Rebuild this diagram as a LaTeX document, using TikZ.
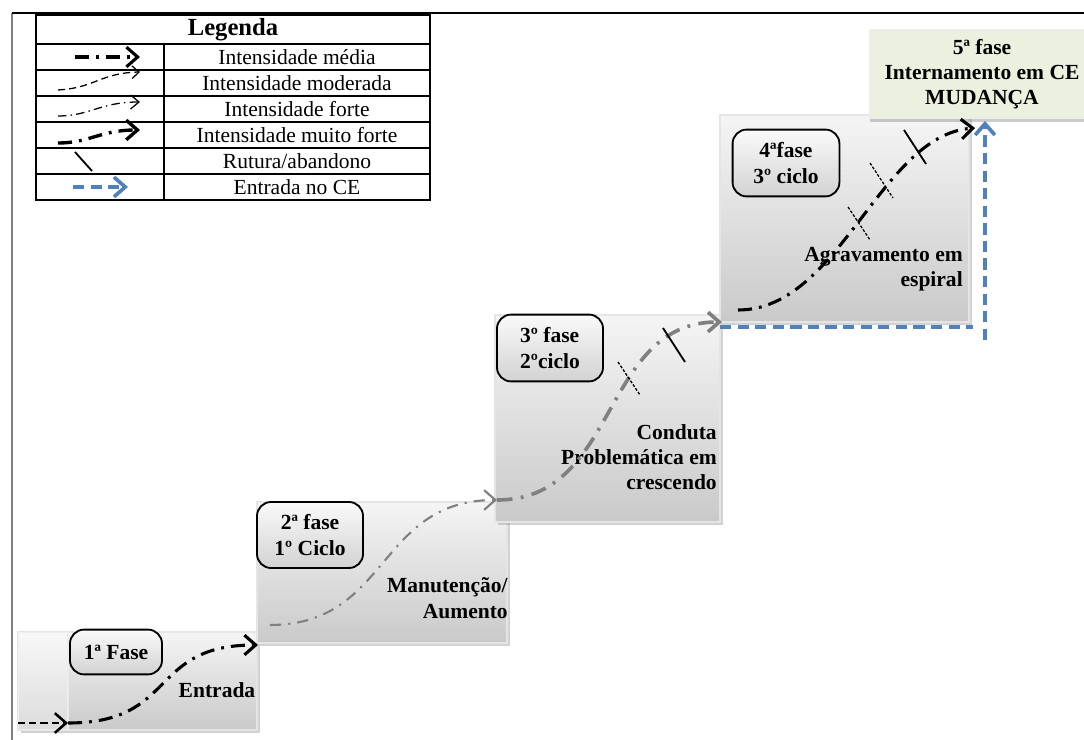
\documentclass[tikz,border=0pt]{standalone}
\usepackage{fontspec}
\setmainfont{Liberation Serif}
\usetikzlibrary{arrows.meta,shadows}
\definecolor{azulce}{HTML}{4F81BD}
\definecolor{verdece}{HTML}{EBF1DE}
\begin{document}
\begin{tikzpicture}[x=0.025cm,y=-0.025cm,font=\fontsize{15.3pt}{17pt}\selectfont]
    \tikzset{>={Straight Barb[length=8pt,width=14pt]}}
    \tikzset{degrau/.style={draw=gray!20,line width=1pt,top color=gray!8,bottom color=gray!42,drop shadow={shadow xshift=2pt,shadow yshift=-2pt,opacity=0.35}}}
    \tikzset{fase/.style={draw=black,line width=1.3pt,rounded corners=10pt,top color=gray!4,bottom color=gray!35,font=\fontsize{15.3pt}{18pt}\selectfont\bfseries,align=center,inner sep=0pt}}
    \tikzset{rotulo/.style={font=\fontsize{15.3pt}{18pt}\selectfont\bfseries,align=right,inner sep=0pt}}
    \tikzset{media/.style={line width=2.2pt,dash pattern=on 10pt off 5pt on 2pt off 5pt}}
    \tikzset{forte/.style={line width=1.5pt,gray,dash pattern=on 8pt off 5pt on 1.5pt off 5pt}}
    \tikzset{muitoforte/.style={line width=2.6pt,gray,dash pattern=on 11pt off 6pt on 2pt off 6pt}}
    \tikzset{rutura/.style={line width=1.3pt}}
    \tikzset{rutura2/.style={line width=0.9pt,dash pattern=on 2pt off 1.2pt}}
    \tikzset{entrada/.style={line width=2.6pt,azulce,dash pattern=on 8pt off 4.5pt}}
    \useasboundingbox (0,0) rectangle (1084,740);
    \fill[white] (0,0) rectangle (1084,740);
    \draw[gray,line width=1pt] (12,13) -- (12,740);
    \draw[line width=0.8pt] (12,13) -- (1084,13);
    % legenda
    \draw[line width=1.3pt] (36,15) rectangle (430,200);
    \foreach \y in {44,70,96,122,148,174}
        \draw[line width=1.3pt] (36,\y) -- (430,\y);
    \draw[line width=1.3pt] (164,44) -- (164,200);
    \node[font=\fontsize{17.5pt}{19pt}\selectfont\bfseries] (leg) at (233,30) {Legenda};
    \node (l1) at (297,57) {Intensidade média};
    \node (l2) at (297,83) {Intensidade moderada};
    \node (l3) at (297,109) {Intensidade forte};
    \node (l4) at (297,135) {Intensidade muito forte};
    \node (l5) at (297,161) {Rutura/abandono};
    \node (l6) at (297,187) {Entrada no CE};
    \draw[media,->] (75,57) -- (140,57);
    \draw[line width=0.9pt,dash pattern=on 5pt off 3pt,-{Straight Barb[length=5pt,width=9pt]}] (58,90) .. controls (95,88) and (100,73) .. (140,72);
    \draw[line width=0.9pt,dash pattern=on 6pt off 3pt on 1pt off 3pt,-{Straight Barb[length=6pt,width=10pt]}] (58,116) .. controls (90,116) and (100,102) .. (140,102);
    \draw[line width=2.4pt,dash pattern=on 10pt off 5pt on 2pt off 5pt,->] (58,143) .. controls (90,143) and (100,130) .. (140,130);
    \draw[rutura] (75,152) -- (92,171);
    \draw[entrada,->] (73,187) -- (128,187);
    % degraus
    \draw[degrau] (18,632) rectangle (257,730);
    \fill[white,opacity=0.35] (18,632) rectangle (68,730);
    \draw[gray!15,line width=1pt] (68,632) -- (68,730);
    \draw[degrau] (257,502) rectangle (507,643);
    \draw[degrau] (495,315) rectangle (720,522);
    \draw[degrau] (720,115) rectangle (969,322);
    \draw[draw=gray!15,line width=1pt,fill=verdece,drop shadow={shadow xshift=0pt,shadow yshift=-3pt,opacity=0.4}] (870,30) rectangle (1090,118);
    % fases
    \node[fase,minimum width=2.3cm,minimum height=1.12cm] (f1) at (116,652) {1ª Fase};
    \node[fase,minimum width=2.65cm,minimum height=1.65cm] (f2) at (310,535) {2ª fase\\1º Ciclo};
    \node[fase,minimum width=2.65cm,minimum height=1.67cm,align=left] (f3) at (550,348) {3º fase\\2ºciclo};
    \node[fase,minimum width=2.67cm,minimum height=1.67cm] (f4) at (786,163) {4ªfase\\3º ciclo};
    \node[rotulo] (t1) at (217,690) {Entrada};
    \node[rotulo,anchor=east] (t2) at (508,598) {Manutenção/\\Aumento};
    \node[rotulo,anchor=east] (t3) at (717,457) {Conduta\\Problemática em\\crescendo};
    \node[rotulo,anchor=east] (t4) at (963,269) {Agravamento em\\espiral};
    \node[rotulo,align=center] (t5) at (982,74) {5ª fase\\Internamento em CE\\MUDANÇA};
    % percurso
    \coordinate (E0) at (18,723);
    \coordinate (E1) at (68,723);
    \coordinate (S1) at (258,645);
    \coordinate (E2) at (270,625);
    \coordinate (S2) at (497,500);
    \coordinate (S3) at (722,322);
    \coordinate (E4) at (738,310);
    \coordinate (S4) at (975,128);
    \draw[line width=1.8pt,dash pattern=on 5pt off 3pt,->] (E0) -- (E1);
    \draw[media,->] (E1) .. controls (178,723) and (148,645) .. (S1);
    \draw[forte,->] (E2) .. controls (390,625) and (377,500) .. (S2);
    \draw[muitoforte,->] (S2) .. controls (620,500) and (600,322) .. (S3);
    \draw[media,->] (E4) .. controls (840,310) and (880,135) .. (S4);
    \draw[rutura2] (618,362) -- (640,395);
    \draw[rutura] (663,328) -- (685,362);
    \draw[rutura2] (848,207) -- (870,240);
    \draw[rutura2] (870,163) -- (893,198);
    \draw[rutura] (904,130) -- (926,164);
    % entrada no CE
    \coordinate (C0) at (720,327);
    \coordinate (C1) at (973,327);
    \coordinate (C2) at (985,340);
    \coordinate (C3) at (985,121);
    \draw[entrada] (C0) -- (C1);
    \draw[entrada,->] (C2) -- (C3);
\end{tikzpicture}
\end{document}
